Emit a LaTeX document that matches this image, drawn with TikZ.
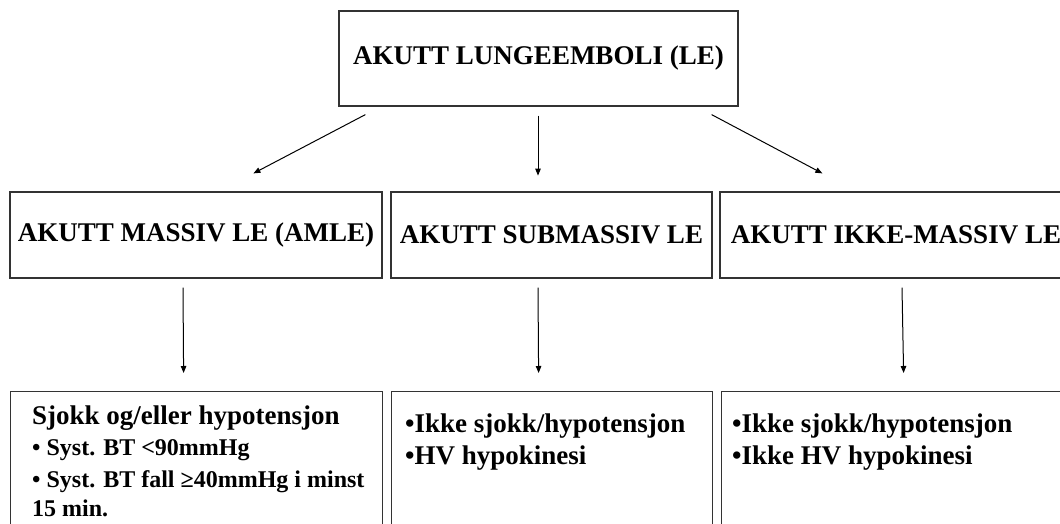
\documentclass[tikz,border=0pt]{standalone}
\usepackage{fontspec}
\setmainfont{Liberation Serif}
\usetikzlibrary{arrows.meta,positioning,calc}
\definecolor{boxLine}{HTML}{333333}
\tikzset{
  levelbox/.style={draw=boxLine,line width=1.2pt,inner sep=0pt,
    font=\fontsize{27}{30}\selectfont\bfseries},
  infobox/.style={draw=boxLine,line width=1.2pt,inner sep=0pt,anchor=north west,minimum height=200pt},
  infotext/.style={inner sep=0pt,anchor=north west,align=left,
    font=\fontsize{27}{30}\selectfont\bfseries},
  arr/.style={line width=1pt,-{Triangle[length=7pt,width=5.5pt]}},
}
\begin{document}
\begin{tikzpicture}[x=1pt,y=-1pt]
  \useasboundingbox (0,0) rectangle (1060,524);
  \clip (0,0) rectangle (1060,524);
  % top level
  \node[levelbox,minimum width=399pt,minimum height=95pt] (top) at (538.5,58.5) {AKUTT LUNGEEMBOLI (LE)};
  % second level
  \node[levelbox,minimum width=372pt,minimum height=86pt] (massiv) at (196,235) {AKUTT MASSIV LE (AMLE)};
  \node[levelbox,minimum width=321pt,minimum height=86pt] (submassiv) at (551.5,235) {AKUTT SUBMASSIV LE};
  \node[levelbox,minimum width=352pt,minimum height=86pt] (ikke) at (896,235) {AKUTT IKKE-MASSIV LE};
  % third level
  \node[infobox,minimum width=372pt] (amleinfo) at (10,391) {};
  \node[infobox,minimum width=321pt] (subinfo) at (391,391) {};
  \node[infobox,minimum width=352pt] (ikkeinfo) at (721,391) {};
  \node[infotext] (amletext) at ([shift={(22,15)}]amleinfo.north west)
    {Sjokk og/eller hypotensjon\\[1pt]
     {\fontsize{24}{31}\selectfont\bfseries • Syst. BT <90mmHg}\\[2pt]
     {\fontsize{24}{31}\selectfont\bfseries • Syst. BT fall ≥40mmHg i minst}\\[-1pt]
     {\fontsize{24}{31}\selectfont\bfseries 15 min.}};
  \node[infotext] (subtext) at ([shift={(14,23)}]subinfo.north west)
    {•Ikke sjokk/hypotensjon\\[2pt]•HV hypokinesi};
  \node[infotext] (ikketext) at ([shift={(11,23)}]ikkeinfo.north west)
    {•Ikke sjokk/hypotensjon\\[2pt]•Ikke HV hypokinesi};
  % connectors
  \draw[arr] ([shift={(27,8)}]top.south west) -- ([shift={(244,-18)}]massiv.north west);
  \draw[arr] ([shift={(-0.5,9)}]top.south) -- ([shift={(-0.5,69)}]top.south);
  \draw[arr] ([shift={(-27,8)}]top.south east) -- ([shift={(103,-18)}]ikke.north west);
  \draw[arr] ([shift={(-13,9)}]massiv.south) -- ([shift={(-13,-18)}]amleinfo.north);
  \draw[arr] ([shift={(-13.5,9)}]submassiv.south) -- ([shift={(-13.5,-18)}]subinfo.north);
  \draw[arr] ([shift={(6,9)}]ikke.south) -- ([shift={(6,-18)}]ikkeinfo.north);
\end{tikzpicture}
\end{document}
